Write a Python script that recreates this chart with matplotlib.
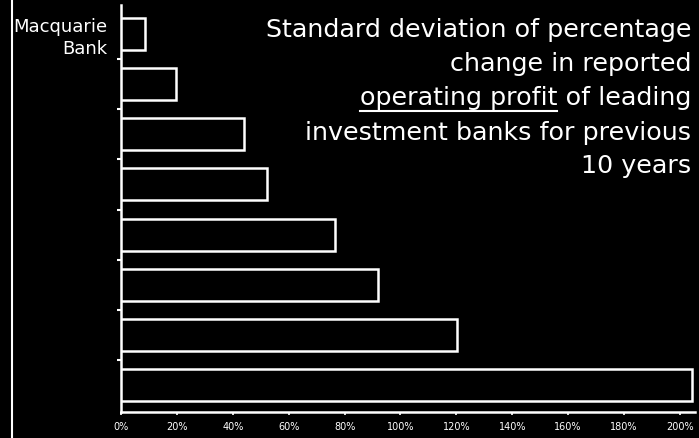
import matplotlib
matplotlib.use("Agg")
import matplotlib.pyplot as plt
from matplotlib.lines import Line2D
from matplotlib.ticker import FixedLocator

# Standard deviation (%) of the yearly change in reported operating profit
banks = ["Macquarie\nBank", "", "", "", "", "", "", ""]
std_dev = [8.6, 19.7, 44.0, 52.2, 76.6, 91.9, 120.2, 204.3]
x_ticks = [0, 20, 40, 60, 80, 100, 120, 140, 160, 180, 200]
x_tick_labels = [f"{v}%" for v in x_ticks]
title_lines = [
    "Standard deviation of percentage",
    "change in reported",
    "operating profit of leading",
    "investment banks for previous",
    "10 years",
]
underlined = "operating profit"

W, H = 699, 438
plt.rcParams["font.family"] = ["DejaVu Sans"]

fig = plt.figure(figsize=(W / 100, H / 100), dpi=100, facecolor="black")


def fx(px):
    return px / W


def fy(py):
    return 1 - py / H


ax = fig.add_axes([fx(121), fy(412), fx(695) - fx(121), fy(5) - fy(412)])
ax.set_facecolor("black")

y_pos = list(range(len(banks)))
ax.barh(y_pos, std_dev, height=0.64, color="black", edgecolor="white",
        linewidth=1.8, zorder=3)

ax.set_xlim(0, 205.4)
ax.set_ylim(7.54, -0.58)

for side in ("top", "right"):
    ax.spines[side].set_visible(False)
for side in ("left", "bottom"):
    ax.spines[side].set_color("white")
    ax.spines[side].set_linewidth(1.8)

ax.set_xticks(x_ticks)
ax.set_xticklabels(x_tick_labels)
ax.tick_params(axis="x", colors="white", length=2, width=1.2, pad=5.5,
               labelsize=7)

ax.set_yticks(y_pos)
ax.set_yticklabels(banks, ha="right", linespacing=1.25)
ax.tick_params(axis="y", which="major", colors="white", length=0, pad=10,
               labelsize=13)
ax.yaxis.set_minor_locator(FixedLocator([i + 0.5 for i in range(len(banks) - 1)]))
ax.tick_params(axis="y", which="minor", colors="white", length=3, width=1.5)

# thin frame line at the left edge
fig.add_artist(Line2D([fx(12), fx(12)], [0, 1], color="white", linewidth=1.5,
                      transform=fig.transFigure))

# right-aligned headline, one line at a time
baselines = [36.5, 71.5, 105.5, 140, 173.5]
x_right = 691
title_size = 18.3
texts = []
for line, base in zip(title_lines, baselines):
    t = fig.text(fx(x_right), fy(base), line, color="white", fontsize=title_size,
                 ha="right", va="baseline")
    texts.append(t)

# underline the first words of the third line
renderer = fig.canvas.get_renderer()
full = texts[2].get_window_extent(renderer)
probe = fig.text(0, 0, underlined, fontsize=title_size)
head = probe.get_window_extent(renderer)
probe.remove()
x0 = full.x0
x1 = full.x0 + head.width
y_line = fy(baselines[2] + 5)
fig.add_artist(Line2D([x0 / W, x1 / W], [y_line, y_line], color="white",
                      linewidth=1.5, transform=fig.transFigure))

fig.savefig("out.png", dpi=100, facecolor="black")
